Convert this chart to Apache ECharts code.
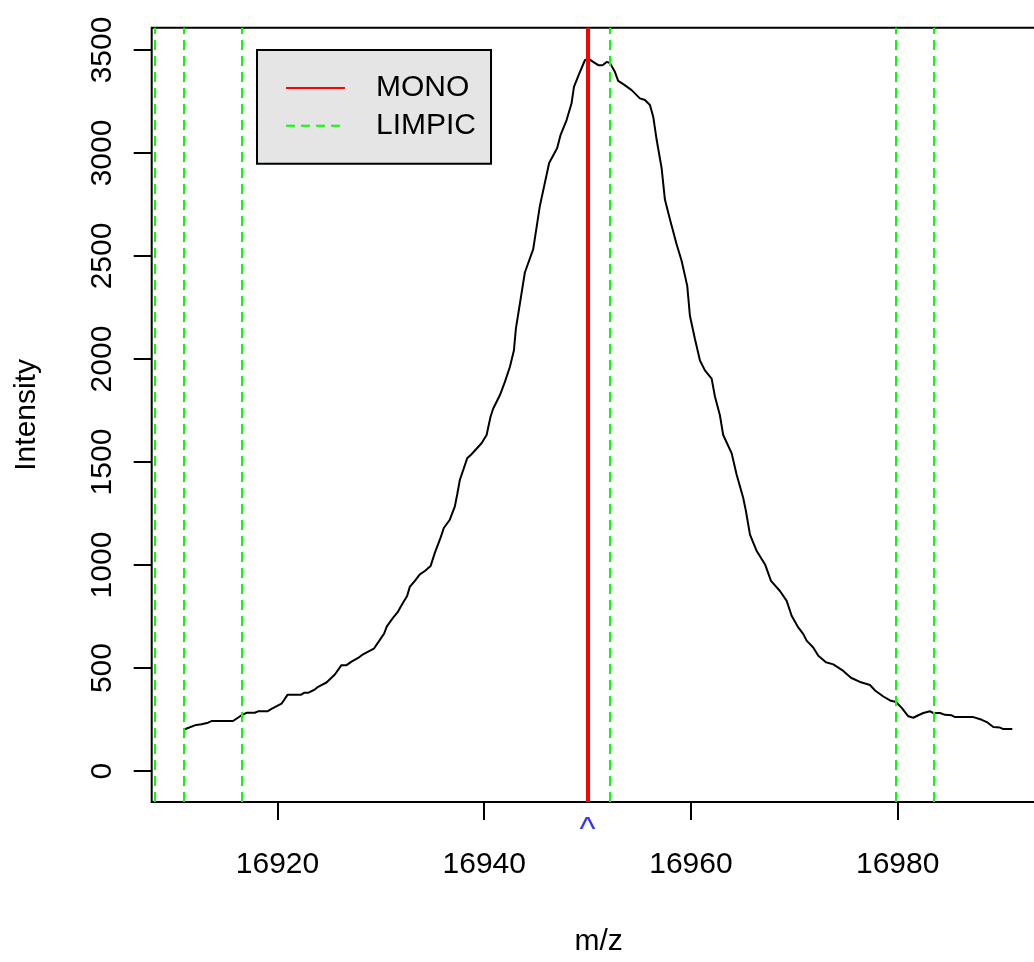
<!DOCTYPE html>
<html>
<head>
<meta charset="utf-8">
<script src="https://cdn.jsdelivr.net/npm/echarts@6/dist/echarts.min.js"></script>
<style>
html,body{margin:0;padding:0;background:#fff;overflow:hidden;width:1034px;height:962px;}
#c{width:1050px;height:962px;}
</style>
</head>
<body>
<div id="c"></div>
<script>
const mz = [16911.03, 16912.00, 16912.65, 16913.28, 16913.61, 16915.70, 16916.52, 16917.00, 16917.80, 16918.12,
16919.03, 16919.42, 16920.39, 16920.97, 16922.25, 16922.57, 16922.96, 16923.61, 16923.93, 16924.74,
16925.55, 16926.19, 16926.68, 16927.16, 16927.80, 16928.28, 16929.32, 16929.74, 16930.32, 16930.58,
16931.19, 16931.61, 16932.00, 16932.54, 16932.80, 16933.29, 16933.77, 16934.26, 16934.81, 16935.22,
16935.77, 16936.09, 16936.67, 16937.16, 16937.38, 16937.64, 16938.35, 16938.77, 16939.74, 16940.23,
16940.61, 16940.87, 16941.51, 16942.00, 16942.48, 16942.87, 16943.06, 16943.52, 16943.93, 16944.74,
16945.38, 16946.28, 16947.06, 16947.39, 16947.97, 16948.45, 16948.68, 16949.26, 16949.74, 16950.06,
16950.54, 16951.03, 16951.45, 16951.84, 16952.16, 16952.64, 16952.96, 16953.45, 16954.26, 16955.06,
16955.55, 16956.03, 16956.35, 16956.68, 16957.16, 16957.48, 16957.97, 16958.61, 16959.10, 16959.64,
16959.90, 16960.38, 16960.87, 16961.35, 16962.00, 16962.32, 16962.80, 16963.12, 16963.94, 16964.42,
16965.06, 16965.32, 16965.71, 16966.36, 16967.17, 16967.74, 16968.61, 16969.26, 16969.74, 16970.38,
16970.87, 16971.19, 16971.83, 16972.32, 16973.06, 16973.77, 16974.74, 16975.48, 16976.45, 16977.32,
16977.81, 16978.61, 16979.26, 16979.84, 16980.39, 16981.03, 16981.51, 16982.00, 16982.48, 16983.13,
16983.45, 16984.10, 16984.58, 16985.23, 16985.55, 16987.32, 16988.14, 16988.62, 16989.25, 16989.90,
16990.22, 16991.09];
const intensity = [203,222,227,235,243,243,271,283,283,290,
290,302,327,370,370,380,380,396,409,430,
469,514,514,531,549,567,594,625,668,702,
745,770,805,850,894,923,955,971,995,1059,
1132,1180,1220,1285,1341,1413,1518,1538,1591,1631,
1720,1760,1824,1889,1961,2041,2146,2291,2420,2533,
2742,2951,3024,3088,3160,3241,3321,3394,3450,3458,
3442,3426,3426,3442,3437,3394,3350,3334,3305,3265,
3257,3233,3176,3064,2927,2774,2677,2557,2476,2355,
2210,2098,1993,1945,1905,1818,1727,1631,1542,1438,
1325,1261,1148,1068,1003,923,874,826,754,697,
665,633,600,560,528,518,486,453,431,418,
391,362,343,335,307,266,259,271,282,290,
282,282,273,271,262,262,249,238,214,211,
204,204];
const monoPos = [16950];
const limpicPos = [16908.15, 16910.9, 16916.5, 16952.11, 16979.84, 16983.5];
const xTicks = [16920, 16940, 16960, 16980];
const yTicks = [0, 500, 1000, 1500, 2000, 2500, 3000, 3500];
const legendNames = ['MONO', 'LIMPIC'];
const markerText = '^';

const FONT = 'Liberation Sans';
const X_MIN = 16907.83, X_MAX = 16994.29;
const Y_MIN = -150, Y_MAX = 3608;

const chart = echarts.init(document.getElementById('c'), null, {renderer: 'canvas', width: 1050, height: 962});
chart.setOption({
  animation: false,
  backgroundColor: '#fff',
  textStyle: {fontFamily: FONT},
  grid: {left: 151.7, top: 27.7, right: 4.6, bottom: 157, show: true, borderColor: '#000', borderWidth: 2, backgroundColor: 'transparent'},
  legend: {
    data: legendNames,
    orient: 'vertical',
    left: 257, top: 50,
    backgroundColor: '#e5e5e5',
    borderColor: '#000', borderWidth: 2, borderRadius: 0,
    padding: [23, 15, 23, 28],
    itemWidth: 59, itemHeight: 30, itemGap: 7.7,
    lineStyle: {width: 2},
    itemStyle: {opacity: 0},
    selectedMode: false,
    textStyle: {fontFamily: FONT, fontSize: 30, color: '#000', padding: [0, 0, 0, 26]}
  },
  xAxis: {
    type: 'value', min: X_MIN, max: X_MAX,
    name: 'm/z', nameLocation: 'middle', nameGap: 125,
    nameTextStyle: {fontFamily: FONT, fontSize: 30, color: '#000'},
    axisLine: {show: false, onZero: false},
    splitLine: {show: false},
    axisTick: {show: true, customValues: xTicks, length: 18, lineStyle: {color: '#000', width: 2}},
    axisLabel: {customValues: xTicks, margin: 48, fontFamily: FONT, fontSize: 30, color: '#000', formatter: v => String(v)}
  },
  yAxis: {
    type: 'value', min: Y_MIN, max: Y_MAX,
    name: 'Intensity', nameLocation: 'middle', nameGap: 110, nameRotate: 90,
    nameTextStyle: {fontFamily: FONT, fontSize: 30, color: '#000'},
    axisLine: {show: false, onZero: false},
    splitLine: {show: false},
    axisTick: {show: true, customValues: yTicks, length: 18, lineStyle: {color: '#000', width: 2}},
    axisLabel: {customValues: yTicks, rotate: 90, margin: 34, fontFamily: FONT, fontSize: 30, color: '#000', formatter: v => String(v)}
  },
  series: [
    {
      name: 'spectrum', type: 'line', symbol: 'none', z: 2,
      data: mz.map((m, i) => [m, intensity[i]]),
      lineStyle: {color: '#000', width: 2}
    },
    {
      name: 'MONO', type: 'line', symbol: 'none', z: 4, data: [],
      color: '#ff0000',
      lineStyle: {color: '#ff0000', width: 2, type: 'solid'},
      markLine: {
        silent: true, symbol: ['none', 'none'], animation: false,
        label: {show: false},
        lineStyle: {color: '#ff0000', width: 4, type: 'solid'},
        data: monoPos.map(v => ({xAxis: v}))
      }
    },
    {
      name: 'LIMPIC', type: 'line', symbol: 'none', z: 3, data: [],
      color: '#00ff00',
      lineStyle: {color: '#00ff00', width: 2, type: [9, 6]},
      markLine: {
        silent: true, symbol: ['none', 'none'], animation: false,
        label: {show: false},
        lineStyle: {color: '#00ff00', width: 2, type: [10, 6]},
        data: limpicPos.map(v => ({xAxis: v}))
      }
    },
    {
      name: 'marker', type: 'scatter', symbolSize: 0, clip: false, z: 5,
      data: monoPos.map(v => [v, Y_MIN]),
      label: {show: true, position: 'bottom', distance: 12, formatter: markerText, fontFamily: FONT, fontSize: 34, color: '#0000ff'}
    }
  ]
});
</script>
</body>
</html>
